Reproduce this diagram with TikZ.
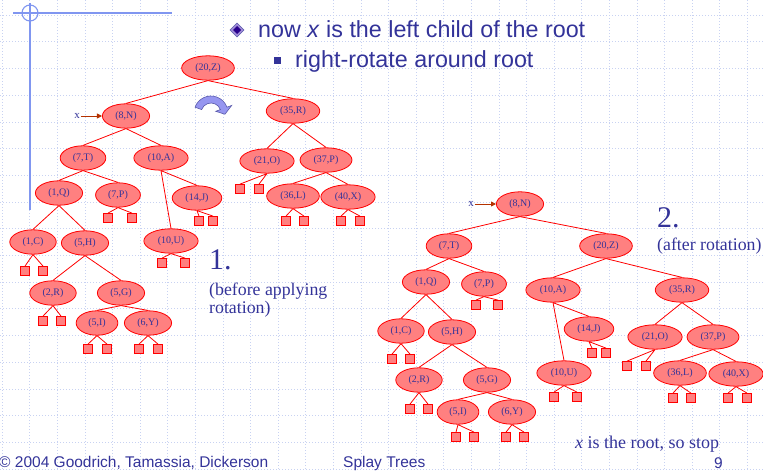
\documentclass[tikz,border=0pt]{standalone}
\usepackage{fontspec}
\setmainfont{Liberation Serif}
\setsansfont{Liberation Sans}
\usetikzlibrary{shapes.geometric,arrows.meta}
\definecolor{slideblue}{RGB}{51,51,153}
\definecolor{keyfill}{RGB}{255,128,128}
\definecolor{keyline}{RGB}{255,0,0}
\definecolor{gridline}{RGB}{200,210,242}
\definecolor{crossline}{RGB}{128,150,240}
\definecolor{pointer}{RGB}{180,50,0}
\definecolor{rotfill}{RGB}{150,150,240}
\definecolor{rotline}{RGB}{90,90,170}
\definecolor{gemfill}{RGB}{160,140,215}
\definecolor{gemcore}{RGB}{40,0,140}
\begin{document}
\begin{tikzpicture}[x=1pt,y=-1pt,
  key/.style={ellipse, draw=keyline, fill=keyfill, line width=0.8pt, inner xsep=6pt, inner ysep=4.1pt, text=slideblue, font=\fontsize{10}{11}\selectfont},
  leaf/.style={rectangle, draw=keyline, fill=keyfill, line width=0.8pt, minimum size=9pt, inner sep=0pt},
  edge/.style={keyline, line width=0.8pt},
  ptr/.style={pointer, line width=0.9pt, -{Triangle[length=5pt,width=5pt]}},
  mark label/.style={text=slideblue, inner sep=1pt, font=\fontsize{11}{12}\selectfont},
  note/.style={anchor=base west, inner sep=0pt, text=slideblue, font=\fontsize{17.8}{19}\selectfont},
  big num/.style={anchor=base west, inner sep=0pt, text=slideblue, font=\fontsize{30}{32}\selectfont},
  slide text/.style={anchor=base west, inner sep=0pt, text=slideblue, font=\sffamily\fontsize{23.3}{25}\selectfont},
  foot/.style={anchor=base west, inner sep=0pt, text=slideblue, font=\sffamily\fontsize{15.5}{17}\selectfont}]
\useasboundingbox (0,0) rectangle (763,471);
% slide background
\foreach \k in {0,...,27} \draw[gridline, line width=0.6pt, dash pattern=on 1pt off 2pt] ({2+27.6*\k},0) -- ({2+27.6*\k},471);
\foreach \k in {0,...,17} \draw[gridline, line width=0.6pt, dash pattern=on 1pt off 2pt] (0,{15+26.7*\k}) -- (763,{15+26.7*\k});
\draw[crossline, line width=1.3pt] (13,13) -- (172,13) (30,3) -- (30,210);
\draw[crossline, line width=1.1pt] (30,13) circle[radius=8];
% heading
\fill[gemfill, draw=rotline, line width=0.5pt] (237,23) -- (244,30) -- (237,37) -- (230,30) -- cycle;
\fill[gemcore] (237,26) -- (241,30) -- (237,34) -- (233,30) -- cycle;
\node[slide text] (head) at (258,37) {now \textit{x} is the left child of the root};
\fill[slideblue] (273.5,56.5) rectangle (280.5,63.5);
\node[slide text] (sub) at (295,67) {right-rotate around root};
% tree before rotation
\node[key] (b20Z) at (208,68) {(20,Z)};
\node[key] (b8N) at (126,116) {(8,N)};
\node[key] (b35R) at (293,111) {(35,R)};
\node[key] (b7T) at (83,158) {(7,T)};
\node[key] (b10A) at (161,158) {(10,A)};
\node[key] (b21O) at (267,161) {(21,O)};
\node[key] (b37P) at (326,160) {(37,P)};
\node[key] (b1Q) at (59,193) {(1,Q)};
\node[key] (b7P) at (118,195) {(7,P)};
\node[key] (b14J) at (197,198) {(14,J)};
\node[key] (b36L) at (293,196) {(36,L)};
\node[key] (b40X) at (348,197) {(40,X)};
\node[key] (b1C) at (33,242) {(1,C)};
\node[key] (b5H) at (85,243) {(5,H)};
\node[key] (b10U) at (171,241) {(10,U)};
\node[key] (b2R) at (53,293) {(2,R)};
\node[key] (b5G) at (121,293) {(5,G)};
\node[key] (b5I) at (97,323) {(5,I)};
\node[key] (b6Y) at (148,323) {(6,Y)};
\node[leaf] (b21Ol) at (240,189) {};
\node[leaf] (b21Or) at (259,189) {};
\node[leaf] (b36Ll) at (286,221) {};
\node[leaf] (b36Lr) at (304,221) {};
\node[leaf] (b40Xl) at (341,221) {};
\node[leaf] (b40Xr) at (360,221) {};
\node[leaf] (b7Pl) at (108,218) {};
\node[leaf] (b7Pr) at (132,218) {};
\node[leaf] (b14Jl) at (199,221) {};
\node[leaf] (b14Jr) at (213,221) {};
\node[leaf] (b1Cl) at (25,271) {};
\node[leaf] (b1Cr) at (43,271) {};
\node[leaf] (b10Ul) at (162,263) {};
\node[leaf] (b10Ur) at (185,263) {};
\node[leaf] (b2Rl) at (43,321) {};
\node[leaf] (b2Rr) at (61,321) {};
\node[leaf] (b5Il) at (88,349) {};
\node[leaf] (b5Ir) at (107,349) {};
\node[leaf] (b6Yl) at (139,349) {};
\node[leaf] (b6Yr) at (158,349) {};
\draw[edge] (b20Z.south) -- (b8N.north) (b20Z.south) -- (b35R.north);
\draw[edge] (b8N.south) -- (b7T.north) (b8N.south) -- (b10A.north);
\draw[edge] (b35R.south) -- (b21O.north) (b35R.south) -- (b37P.north);
\draw[edge] (b7T.south) -- (b1Q.north) (b7T.south) -- (b7P.north);
\draw[edge] (b10A.south) -- (b10U.north) (b10A.south) -- (b14J.north);
\draw[edge] (b37P.south) -- (b36L.north) (b37P.south) -- (b40X.north);
\draw[edge] (b1Q.south) -- (b1C.north) (b1Q.south) -- (b5H.north);
\draw[edge] (b5H.south) -- (b2R.north) (b5H.south) -- (b5G.north);
\draw[edge] (b5G.south) -- (b5I.north) (b5G.south) -- (b6Y.north);
\draw[edge] (b21O.south) -- (b21Ol.north) (b21O.south) -- (b21Or.north);
\draw[edge] (b36L.south) -- (b36Ll.north) (b36L.south) -- (b36Lr.north);
\draw[edge] (b40X.south) -- (b40Xl.north) (b40X.south) -- (b40Xr.north);
\draw[edge] (b7P.south) -- (b7Pl.north) (b7P.south) -- (b7Pr.north);
\draw[edge] (b14J.south) -- (b14Jl.north) (b14J.south) -- (b14Jr.north);
\draw[edge] (b1C.south) -- (b1Cl.north) (b1C.south) -- (b1Cr.north);
\draw[edge] (b10U.south) -- (b10Ul.north) (b10U.south) -- (b10Ur.north);
\draw[edge] (b2R.south) -- (b2Rl.north) (b2R.south) -- (b2Rr.north);
\draw[edge] (b5I.south) -- (b5Il.north) (b5I.south) -- (b5Ir.north);
\draw[edge] (b6Y.south) -- (b6Yl.north) (b6Y.south) -- (b6Yr.north);
\node[mark label] (bx) at (77,116) {x};
\draw[ptr] (bx) -- (b8N);
% rotation sign
\begin{scope}[shift={(211,113)}]
\filldraw[fill=rotfill, draw=rotline, line width=0.6pt] (200:17) arc[start angle=200, end angle=340, radius=17] -- (340:22) -- (5:14) -- (340:5) -- (340:10) arc[start angle=340, end angle=200, radius=10] -- cycle;
\end{scope}
\node[big num] (one) at (209,269) {1.};
\node[note] (before1) at (209,295) {(before applying};
\node[note] (before2) at (209,313) {rotation)};
% tree after rotation
\node[key] (a8N) at (520,204) {(8,N)};
\node[key] (a7T) at (449,246) {(7,T)};
\node[key] (a20Z) at (606,246) {(20,Z)};
\node[key] (a1Q) at (426,282) {(1,Q)};
\node[key] (a7P) at (484,284) {(7,P)};
\node[key] (a10A) at (553,290) {(10,A)};
\node[key] (a35R) at (682,290) {(35,R)};
\node[key] (a1C) at (401,331) {(1,C)};
\node[key] (a5H) at (452,332) {(5,H)};
\node[key] (a14J) at (589,329) {(14,J)};
\node[key] (a21O) at (655,337) {(21,O)};
\node[key] (a37P) at (713,337) {(37,P)};
\node[key] (a2R) at (419,380) {(2,R)};
\node[key] (a5G) at (487,380) {(5,G)};
\node[key] (a10U) at (564,373) {(10,U)};
\node[key] (a36L) at (680,373) {(36,L)};
\node[key] (a40X) at (736,374) {(40,X)};
\node[key] (a5I) at (458,412) {(5,I)};
\node[key] (a6Y) at (512,412) {(6,Y)};
\node[leaf] (a7Pl) at (476,305) {};
\node[leaf] (a7Pr) at (498,305) {};
\node[leaf] (a1Cl) at (392,359) {};
\node[leaf] (a1Cr) at (410,359) {};
\node[leaf] (a14Jl) at (592,353) {};
\node[leaf] (a14Jr) at (606,353) {};
\node[leaf] (a21Ol) at (627,366) {};
\node[leaf] (a21Or) at (646,366) {};
\node[leaf] (a10Ul) at (554,397) {};
\node[leaf] (a10Ur) at (577,397) {};
\node[leaf] (a36Ll) at (673,398) {};
\node[leaf] (a36Lr) at (691,398) {};
\node[leaf] (a40Xl) at (728,398) {};
\node[leaf] (a40Xr) at (747,398) {};
\node[leaf] (a2Rl) at (410,409) {};
\node[leaf] (a2Rr) at (428,409) {};
\node[leaf] (a5Il) at (456,437) {};
\node[leaf] (a5Ir) at (474,437) {};
\node[leaf] (a6Yl) at (506,437) {};
\node[leaf] (a6Yr) at (524,437) {};
\draw[edge] (a8N.south) -- (a7T.north) (a8N.south) -- (a20Z.north);
\draw[edge] (a7T.south) -- (a1Q.north) (a7T.south) -- (a7P.north);
\draw[edge] (a20Z.south) -- (a10A.north) (a20Z.south) -- (a35R.north);
\draw[edge] (a1Q.south) -- (a1C.north) (a1Q.south) -- (a5H.north);
\draw[edge] (a10A.south) -- (a10U.north) (a10A.south) -- (a14J.north);
\draw[edge] (a35R.south) -- (a21O.north) (a35R.south) -- (a37P.north);
\draw[edge] (a5H.south) -- (a2R.north) (a5H.south) -- (a5G.north);
\draw[edge] (a37P.south) -- (a36L.north) (a37P.south) -- (a40X.north);
\draw[edge] (a5G.south) -- (a5I.north) (a5G.south) -- (a6Y.north);
\draw[edge] (a7P.south) -- (a7Pl.north) (a7P.south) -- (a7Pr.north);
\draw[edge] (a1C.south) -- (a1Cl.north) (a1C.south) -- (a1Cr.north);
\draw[edge] (a14J.south) -- (a14Jl.north) (a14J.south) -- (a14Jr.north);
\draw[edge] (a21O.south) -- (a21Ol.north) (a21O.south) -- (a21Or.north);
\draw[edge] (a10U.south) -- (a10Ul.north) (a10U.south) -- (a10Ur.north);
\draw[edge] (a36L.south) -- (a36Ll.north) (a36L.south) -- (a36Lr.north);
\draw[edge] (a40X.south) -- (a40Xl.north) (a40X.south) -- (a40Xr.north);
\draw[edge] (a2R.south) -- (a2Rl.north) (a2R.south) -- (a2Rr.north);
\draw[edge] (a5I.south) -- (a5Il.north) (a5I.south) -- (a5Ir.north);
\draw[edge] (a6Y.south) -- (a6Yl.north) (a6Y.south) -- (a6Yr.north);
\node[mark label] (ax) at (471,204) {x};
\draw[ptr] (ax) -- (a8N);
\node[big num] (two) at (657,227) {2.};
\node[note] (after) at (657,250) {(after rotation)};
\node[note, font=\fontsize{18}{19}\selectfont] (stop) at (575,448) {\textit{x} is the root, so stop};
% footer
\node[foot] (copy) at (-1,467.5) {© 2004 Goodrich, Tamassia, Dickerson};
\node[foot] (title) at (343,467) {Splay Trees};
\node[foot] (page) at (714,468) {9};
\end{tikzpicture}
\end{document}
